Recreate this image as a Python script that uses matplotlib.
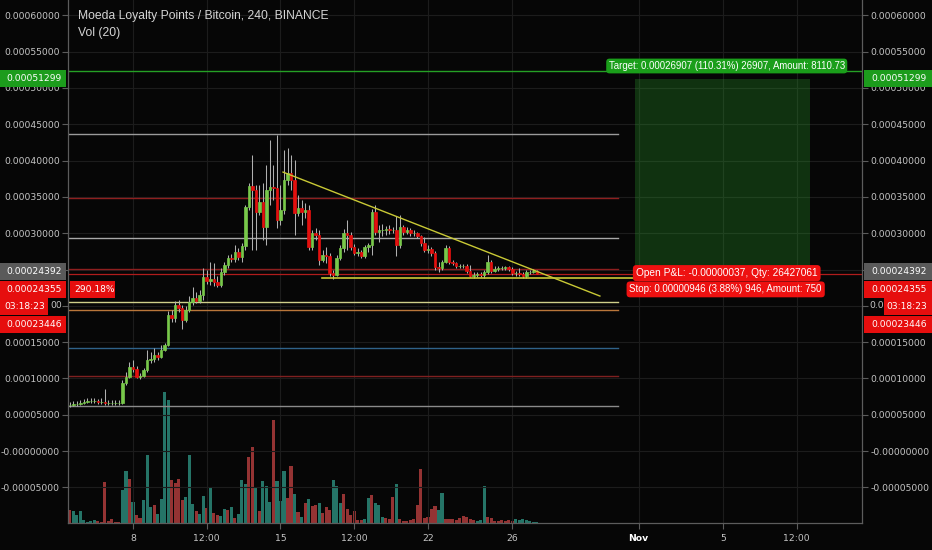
import matplotlib
matplotlib.use("Agg")
import matplotlib.pyplot as plt
import numpy as np
from matplotlib.patches import Rectangle

plt.rcParams['font.family'] = ['DejaVu Sans']

# ---------------- data ----------------
title = "Moeda Loyalty Points / Bitcoin, 240, BINANCE"
subtitle = "Vol (20)"
start_day = 5.0          # Oct 5, 00:00 (x axis in days of October)
bar_days = 1 / 6         # 240-minute candles
sat = 1e-8

open0_sat = 6330
close_sat = [6330, 6470, 6470, 6610, 6750, 6890, 6890, 6890, 6750, 6750, 6610, 6610, 6610, 6610, 6610,
             9360, 10190, 11570, 11290, 10190, 10330, 11150, 12530, 12670, 13220, 12940, 13910, 14600, 18730, 18310,
             20100, 19690, 18040, 19420, 20520, 21070, 20660, 21480, 23960, 23410, 23680, 23270, 22860, 24650, 25610,
             26580, 26440, 27400, 26710, 28230, 33600, 36490, 35940, 32910, 34290, 30850, 35940, 36350, 36220, 31810,
             33190, 37320, 38280, 37320, 32770, 33460, 32910, 33190, 28090, 30020, 29740, 26300, 26990, 26850, 24510,
             24240, 26580, 27950, 30020, 29740, 28090, 27270, 27400, 26850, 28090, 28370, 32910, 30160, 30430, 30430,
             30570, 30430, 30430, 28370, 30850, 30160, 30430, 30020, 30020, 29610, 28640, 27680, 27820, 27270, 25340,
             25200, 26030, 27950, 26030, 25890, 25480, 25480, 25480, 24790, 24100, 24240, 24370, 24240, 24650, 26030,
             24790, 25060, 25200, 25200, 25340, 25060, 24510, 24510, 24370, 24100, 24650, 24650, 24790, 24392]
high_sat = [6750, 6890, 6890, 7020, 7160, 7300, 7300, 7300, 7160, 7300, 8540, 7020, 7020, 7020, 7020,
            9780, 10880, 12260, 12530, 11700, 10740, 11430, 13910, 13630, 14180, 13630, 14600, 14870, 19280, 19420,
            20660, 20790, 20100, 19970, 21340, 22580, 21890, 22170, 25200, 24920, 26030, 25890, 24100, 25200, 26030,
            26990, 27130, 28370, 27950, 28640, 33870, 36900, 40760, 36630, 36630, 36900, 39380, 42830, 39380, 43510,
            36630, 41450, 41720, 40760, 40070, 35250, 34560, 34150, 33870, 30430, 30710, 30430, 27680, 28090, 27270,
            24920, 26990, 28370, 30570, 31810, 30160, 28500, 27950, 27680, 28370, 28640, 33320, 33870, 31120, 31260,
            30980, 31120, 30850, 32360, 32500, 31120, 30850, 30710, 30430, 30160, 29740, 29470, 28370, 28090, 27540,
            26030, 26300, 28370, 28230, 26300, 26030, 25750, 25750, 25750, 25610, 24650, 24650, 24650, 24920, 26990,
            26300, 25480, 25480, 25480, 25480, 25480, 25340, 24790, 25200, 24650, 24920, 24920, 25060, 24920]
low_sat = [6060, 6200, 6200, 6330, 6470, 6610, 6610, 6610, 6470, 6470, 6330, 6330, 6330, 6330, 6330,
           6470, 9090, 10050, 10880, 10050, 9910, 10190, 10880, 12120, 12260, 12530, 12810, 13770, 14460, 17760,
           17760, 19140, 16800, 17760, 19140, 20100, 20380, 20380, 20790, 23000, 22860, 22720, 22580, 22580, 24240,
           25200, 26030, 26030, 26300, 26030, 27680, 33190, 27680, 27680, 32500, 29060, 28370, 33870, 34560, 30710,
           31120, 32640, 36630, 35940, 29740, 32360, 31120, 32080, 27680, 27680, 29060, 25610, 26030, 25890, 24100,
           23680, 24100, 26300, 27400, 27680, 27680, 26990, 26850, 26580, 26580, 27400, 26990, 29740, 28780, 29610,
           29740, 29880, 30020, 26850, 27950, 29740, 29880, 29610, 29610, 29330, 28230, 27400, 27270, 26850, 24920,
           24650, 24920, 25890, 25750, 25610, 25200, 25200, 25200, 24510, 23960, 23820, 23960, 23960, 23820, 24370,
           24510, 24650, 24790, 24920, 24920, 24790, 24240, 24100, 24100, 23820, 23820, 24370, 24510, 24370]
volume = [13, 12, 8, 12, 3, 1, 2, 3, 2, 1, 41, 2, 4, 1, 1,
          33, 52, 44, 21, 8, 5, 23, 68, 16, 18, 9, 24, 131, 123, 43,
          40, 44, 23, 26, 68, 19, 12, 9, 27, 15, 35, 10, 8, 7, 14,
          13, 16, 5, 9, 43, 39, 66, 76, 36, 12, 42, 37, 21, 103, 42,
          22, 52, 25, 57, 29, 11, 6, 20, 24, 17, 18, 20, 10, 16, 13,
          43, 37, 20, 29, 14, 8, 12, 3, 3, 4, 25, 28, 20, 18, 6,
          5, 4, 26, 39, 4, 2, 2, 3, 4, 18, 54, 5, 6, 14, 17,
          13, 30, 4, 4, 4, 3, 5, 7, 6, 4, 3, 2, 3, 37, 6,
          5, 2, 2, 3, 2, 3, 2, 4, 3, 4, 3, 2, 1, 1]
volume_dir = ("rgggggggrrrrrrr" "ggrgrrgggrggggr" "rrrgggrggrgrrgg" "rgrgggrrgrgggrg"
              "ggrrgrgrgrrgrrr" "gggrrrrrrggrggg" "rrrgrrrrrrrrrrr" "ggrrrrrrrrrgggr"
              "rrrrrrrggggggg")

# user drawn horizontal levels (price, colour)
levels = [(0.00043651, '#9a9a9a'), (0.00034838, '#8e1f1f'), (0.00029330, '#a8a8a8'),
          (0.00025061, '#8e1f1f'), (0.00020517, '#cfcf8a'), (0.00019416, '#b9763a'),
          (0.00014183, '#2f628a'), (0.00010328, '#7f2020'), (0.00006197, '#8a8a8a')]
levels_end_day = 31.0
target_line = 0.000523
last_price = 0.00024392
trend_days = [15.12, 30.16]
trend_prices = [0.00038418, 0.00021344]
support_days = [16.97, 31.73]
support_price = 0.00023822
pos_days = [31.83, 40.13]
entry_price = 0.00024429
target_price = 0.00051299
stop_price = 0.00023483

price_ticks = [0.0006, 0.00055, 0.0005, 0.00045, 0.0004, 0.00035, 0.0003, 0.00025, 0.0002,
               0.00015, 0.0001, 0.00005, 0.0, -0.00005]
hidden_ticks = [0.00025, 0.0002]   # labels covered by the price badges
x_ticks = [8, 11.5, 15, 18.5, 22, 26, 32, 36, 39.5]
x_labels = ["8", "12:00", "15", "12:00", "22", "26", "Nov", "5", "12:00"]

target_text = "Target: 0.00026907 (110.31%) 26907, Amount: 8110.73"
pnl_text = "Open P&L: -0.00000037, Qty: 26427061"
stop_text = "Stop: 0.00000946 (3.88%) 946, Amount: 750"

# ---------------- figure ----------------
BG = '#060606'
W, H = 932, 550
fig = plt.figure(figsize=(W / 100, H / 100), dpi=100, facecolor=BG)
L, R, B, T = 68 / W, 862 / W, 27 / H, 1.0
XLIM = (4.915, 42.60)
YLIM = (-0.00009917, 0.00062121)

axv = fig.add_axes([L, B, R - L, T - B])
ax = fig.add_axes([L, B, R - L, T - B])
axv.set_facecolor(BG)
ax.patch.set_visible(False)

n = len(close_sat)
xs = start_day + np.arange(n) * bar_days
c = np.array(close_sat) * sat
o = np.concatenate([[open0_sat * sat], c[:-1]])
h = np.maximum(np.array(high_sat) * sat, np.maximum(o, c))
lo = np.minimum(np.array(low_sat) * sat, np.minimum(o, c))

# volume
vcols = ['#257467' if d == 'g' else '#943333' for d in volume_dir]
axv.bar(xs, volume, width=bar_days * 0.88, color=vcols, linewidth=0)
axv.set_xlim(*XLIM)
axv.set_ylim(0, 523)
axv.set_xticks([]); axv.set_yticks([])
for s in axv.spines.values():
    s.set_visible(False)

ax.set_xlim(*XLIM)
ax.set_ylim(*YLIM)

# grid
ax.set_yticks(price_ticks)
ax.set_xticks(x_ticks)
ax.grid(True, color='#1c1c1c', linewidth=0.8, zorder=0)
ax.set_axisbelow(True)

# position tool
ax.add_patch(Rectangle((pos_days[0], entry_price), pos_days[1] - pos_days[0], target_price - entry_price,
                       facecolor='#2a9a2a', alpha=0.30, edgecolor='none', zorder=1))
ax.add_patch(Rectangle((pos_days[0], stop_price), pos_days[1] - pos_days[0], entry_price - stop_price,
                       facecolor='#9a2a2a', alpha=0.35, edgecolor='none', zorder=1))

# levels
for p, col in levels:
    ax.plot([XLIM[0], levels_end_day], [p, p], color=col, linewidth=1.0, zorder=2)
ax.axhline(target_line, color='#25a025', linewidth=1.0, zorder=2)
ax.axhline(last_price, color='#b01c1c', linewidth=0.9, zorder=2)

# candles
up = c >= o
ax.vlines(xs, lo, h, color='#b0b0b0', linewidth=0.75, zorder=3)
body_col = np.where(up, '#78c84a', '#e3100e')
ax.bar(xs, np.abs(c - o), bottom=np.minimum(o, c), width=bar_days * 0.72,
       color=body_col, edgecolor=body_col, linewidth=0.5, zorder=4)

# pattern lines
ax.plot(trend_days, trend_prices, color='#c9c935', linewidth=1.0, zorder=5)
ax.plot(support_days, [support_price, support_price], color='#c9c935', linewidth=1.2, zorder=5)

# position labels
lbl_x = (pos_days[0] + pos_days[1]) / 2 + 0.2
ax.text(lbl_x, 0.0005303, target_text, color='white', fontsize=6.9, ha='center', va='center', zorder=8,
        family='Liberation Sans',
        bbox=dict(boxstyle='round,pad=0.25,rounding_size=0.35', facecolor='#1a9e1a', edgecolor='none'))
ax.text(lbl_x, 0.0002450, pnl_text, color='white', fontsize=7.3, ha='center', va='center', zorder=8,
        family='Liberation Sans',
        bbox=dict(boxstyle='round,pad=0.3,rounding_size=0.35', facecolor='#ee1111', edgecolor='none'))
ax.text(lbl_x - 0.05, 0.0002226, stop_text, color='white', fontsize=7.0, ha='center', va='center', zorder=8,
        family='Liberation Sans',
        bbox=dict(boxstyle='round,pad=0.3,rounding_size=0.35', facecolor='#ee1111', edgecolor='none'))

# axes styling
def fmt(v):
    if any(abs(v - hv) < 1e-12 for hv in hidden_ticks):
        return ""
    s = f"{abs(v):.8f}"
    return ("-" + s) if v <= 0 else s

LABEL_COL = '#c4c4c4'
ax.set_yticklabels([fmt(v) for v in price_ticks])
ax.set_xticklabels(x_labels)
ax.tick_params(axis='y', which='both', left=True, right=True, labelleft=True, labelright=True,
               colors='#5c5c5c', labelcolor=LABEL_COL, labelsize=6.7, length=4, pad=2, width=0.8)
ax.tick_params(axis='x', colors='#5c5c5c', labelcolor=LABEL_COL, labelsize=6.7, length=4, pad=4, width=0.8)
for lab in ax.get_xticklabels():
    if lab.get_text() == "Nov":
        lab.set_color('white'); lab.set_fontweight('bold')
for side in ('left', 'right', 'bottom'):
    ax.spines[side].set_color('#5c5c5c'); ax.spines[side].set_linewidth(0.9)
ax.spines['top'].set_visible(False)

# title
fig.text(78 / W, 1 - 16 / H, title, color='#d4d4d4', fontsize=8.7, va='center', ha='left',
         family='Liberation Sans')
fig.text(78 / W, 1 - 33 / H, subtitle, color='#d4d4d4', fontsize=8.7, va='center', ha='left',
         family='Liberation Sans')

# price badges on the axes
def price_to_fig(p):
    return B + (p - YLIM[0]) / (YLIM[1] - YLIM[0]) * (T - B)

# visible edges of the 0.00020000 label peeking out from behind the countdown badges
y02 = price_to_fig(0.0002)
fig.text(62 / W, y02, "00", color=LABEL_COL, fontsize=6.7, va='center', ha='right')
fig.text(869 / W, y02, "0.0", color=LABEL_COL, fontsize=6.7, va='center', ha='left')

BH = 17 / H
def badge(x0px, x1px, ycen, text, col, tx_px=None):
    r = Rectangle((x0px / W, ycen - BH / 2), (x1px - x0px) / W, BH, transform=fig.transFigure,
                  facecolor=col, edgecolor='none', zorder=10)
    fig.add_artist(r)
    tx = (x0px + 6) / W if tx_px is None else tx_px / W
    fig.text(tx, ycen, text, color='white', fontsize=6.6, va='center', ha='left', zorder=11)

y_t = price_to_fig(target_price)
badge(0, 66, y_t, "0.00051299", '#1c9c1c')
badge(864, 932, y_t, "0.00051299", '#1c9c1c', 871)

y0 = price_to_fig(last_price) + 2 / H
rows = [("0.00024392", '#5a5a5a'), ("0.00024355", '#e60e0e'), ("03:18:23", '#e60e0e'), ("0.00023446", '#e60e0e')]
for k, (txt, col) in enumerate(rows):
    yc = y0 - k * (17.5 / H)
    if txt == "03:18:23":
        badge(0, 48, yc, txt, col, 4)
        badge(884, 932, yc, txt, col, 886)
    else:
        badge(0, 66, yc, txt, col)
        badge(864, 932, yc, txt, col, 871)
    if k == 1:
        badge(70, 115, yc, "290.18%", col, 74)

fig.savefig("out.png", dpi=100, facecolor=BG)
